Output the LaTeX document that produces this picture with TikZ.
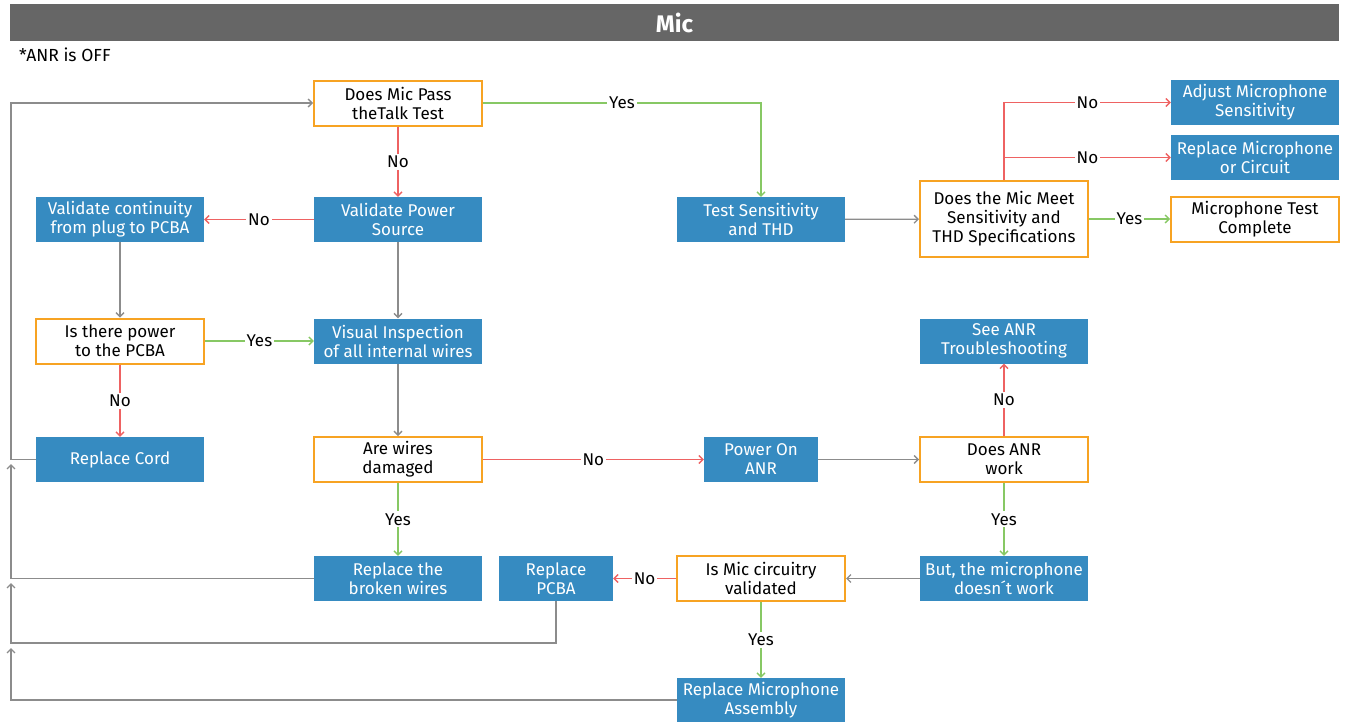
\documentclass[tikz,border=0pt]{standalone}
\usepackage{fontspec}
\setmainfont{Fira Sans}
\usetikzlibrary{arrows.meta}
\definecolor{boxblue}{RGB}{54,139,193}
\definecolor{boxorange}{RGB}{247,163,35}
\definecolor{lred}{RGB}{238,98,98}
\definecolor{lgreen}{RGB}{135,200,100}
\definecolor{lgray}{RGB}{140,140,140}
\definecolor{titlegray}{RGB}{102,102,102}
\tikzset{
  base/.style={inner sep=0pt, align=center, font=\fontsize{17}{19}\selectfont, minimum width=168pt, minimum height=45pt},
  bluebox/.style={base, fill=boxblue, text=white},
  orbox/.style={base, draw=boxorange, line width=2pt, fill=white, text=black},
  tip/.style={-{Straight Barb[length=4pt,width=8pt]}},
  rline/.style={draw=lred, line width=1.3pt, tip},
  gline/.style={draw=lgreen, line width=1.3pt, tip},
  kline/.style={draw=lgray, line width=1.3pt, tip},
  lbl/.style={fill=white, inner sep=2pt, text=black, font=\fontsize{17}{19}\selectfont},
}
\begin{document}
\begin{tikzpicture}[x=1pt,y=-1pt]
\useasboundingbox (0,0) rectangle (1351,723);
% title
\node[fill=titlegray, minimum width=1329pt, minimum height=37pt, inner sep=0pt, text=white, font=\bfseries\fontsize{24}{28}\selectfont] (title) at (674.5,22.5) {Mic};
\node[anchor=west, inner sep=0pt, font=\fontsize{17.5}{19}\selectfont] (note) at (19,55) {*ANR is OFF};
% nodes
\node[orbox] (q1) at (398,103) {Does Mic Pass\\theTalk Test};
\node[bluebox] (vps) at (398,219.5) {Validate Power\\Source};
\node[bluebox] (vc) at (120,219.5) {Validate continuity\\from plug to PCBA};
\node[orbox] (q2) at (120,341) {Is there power\\to the PCBA};
\node[bluebox] (vi) at (398,341) {Visual Inspection\\of all internal wires};
\node[bluebox] (rc) at (120,459.5) {Replace Cord};
\node[orbox] (q3) at (398,459.5) {Are wires\\damaged};
\node[bluebox] (rbw) at (398,578.5) {Replace the\\broken wires};
\node[bluebox, minimum width=114pt] (rp) at (556,578.5) {Replace\\PCBA};
\node[orbox] (q5) at (761,578.5) {Is Mic circuitry\\validated};
\node[bluebox, minimum height=44pt] (rma) at (761,700) {Replace Microphone\\Assembly};
\node[bluebox, minimum width=114pt] (pon) at (761,459.5) {Power On\\ANR};
\node[orbox] (q4) at (1004,459.5) {Does ANR\\work};
\node[bluebox] (anr) at (1004,341) {See ANR\\Troubleshooting};
\node[bluebox] (but) at (1004,578.5) {But, the microphone\\doesn\'{}t work};
\node[bluebox] (ts) at (761,219.5) {Test Sensitivity\\and THD};
\node[orbox, minimum height=76pt] (q6) at (1004,219) {Does the Mic Meet\\Sensitivity and\\THD Specifications};
\node[bluebox] (ams) at (1255,102.5) {Adjust Microphone\\Sensitivity};
\node[bluebox] (rmc) at (1255,157.5) {Replace Microphone\\or Circuit};
\node[orbox] (mtc) at (1255,219) {Microphone Test\\Complete};
% connectors
\draw[rline] (q1) -- node[lbl]{No} (vps);
\draw[rline] (vps) -- node[lbl]{No} (vc);
\draw[kline] (vc) -- (q2);
\draw[gline] (q2) -- node[lbl]{Yes} (vi);
\draw[kline] (vps) -- (vi);
\draw[rline] (q2) -- node[lbl]{No} (rc);
\draw[kline] (vi) -- (q3);
\draw[gline] (q3) -- node[lbl]{Yes} (rbw);
\draw[rline] (q3) -- node[lbl]{No} (pon);
\draw[kline] (pon) -- (q4);
\draw[rline] (q4) -- node[lbl]{No} (anr);
\draw[gline] (q4) -- node[lbl]{Yes} (but);
\draw[kline] (but) -- (q5);
\draw[rline] (q5) -- node[lbl]{No} (rp);
\draw[gline] (q5) -- node[lbl]{Yes} (rma);
\draw[gline] (q1.east) -| node[lbl, pos=0.25]{Yes} (ts.north);
\draw[kline] (ts) -- (q6);
\draw[rline] (q6.north) |- node[lbl, pos=0.75]{No} (ams.west);
\coordinate (br) at (q6.north |- rmc.west);
\draw[rline] (br) -- node[lbl]{No} (rmc.west);
\draw[gline] (q6) -- node[lbl]{Yes} (mtc);
% left return loop
\coordinate (c1) at (11,648);
\coordinate (b2) at (11,643);
\coordinate (c2) at (11,583);
\coordinate (c3) at (11,464);
\coordinate (b4) at (11,103);
\draw[kline] (rma.west) -| (c1);
\draw[kline] (rp.south) |- (b2) -- (c2);
\draw[kline] (rbw.west) -| (c3);
\draw[kline] (rc.west) -| (b4) -- (q1.west);
\end{tikzpicture}
\end{document}
